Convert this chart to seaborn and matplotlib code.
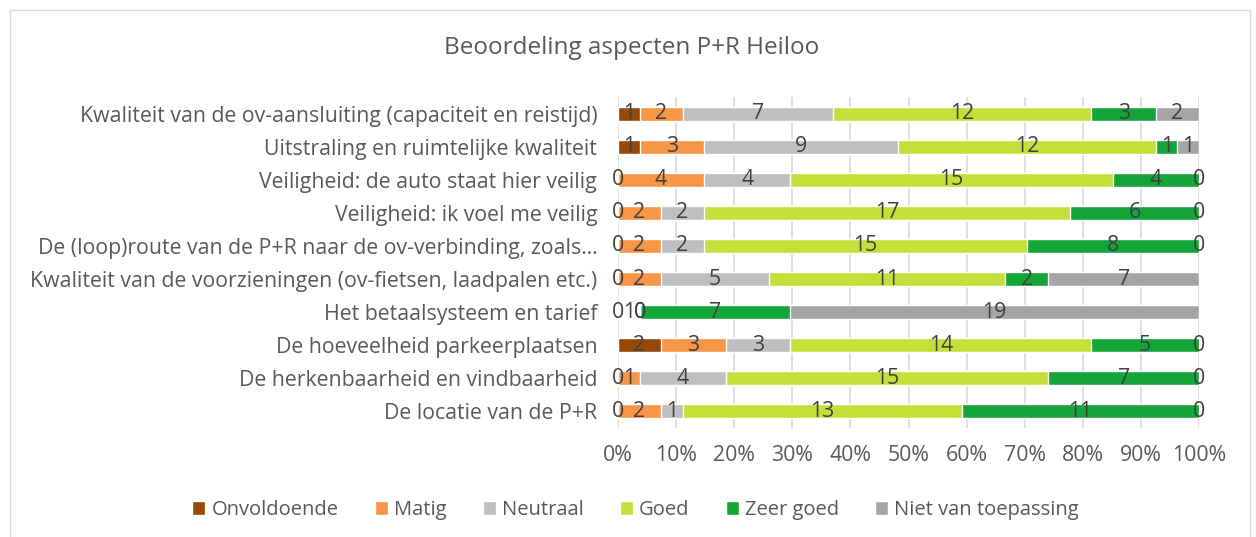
import numpy as np
import pandas as pd
import matplotlib
matplotlib.use("Agg")
import matplotlib.pyplot as plt
from matplotlib.patches import Rectangle
import seaborn as sns

categories = [
    "Kwaliteit van de ov-aansluiting (capaciteit en reistijd)",
    "Uitstraling en ruimtelijke kwaliteit",
    "Veiligheid: de auto staat hier veilig",
    "Veiligheid: ik voel me veilig",
    "De (loop)route van de P+R naar de ov-verbinding, zoals\u2026",
    "Kwaliteit van de voorzieningen (ov-fietsen, laadpalen etc.)",
    "Het betaalsysteem en tarief",
    "De hoeveelheid parkeerplaatsen",
    "De herkenbaarheid en vindbaarheid",
    "De locatie van de P+R",
]
series_names = ["Onvoldoende", "Matig", "Neutraal", "Goed", "Zeer goed", "Niet van toepassing"]
onvoldoende = [1, 1, 0, 0, 0, 0, 0, 2, 0, 0]
matig       = [2, 3, 4, 2, 2, 2, 1, 3, 1, 2]
neutraal    = [7, 9, 4, 2, 2, 5, 0, 3, 4, 1]
goed        = [12, 12, 15, 17, 15, 11, 0, 14, 15, 13]
zeer_goed   = [3, 1, 4, 6, 8, 2, 7, 5, 7, 11]
niet_vt     = [2, 1, 0, 0, 0, 7, 19, 0, 0, 0]
xtick_labels = ["0%", "10%", "20%", "30%", "40%", "50%", "60%", "70%", "80%", "90%", "100%"]
colors = ["#974706", "#F79646", "#BFBFBF", "#C5DF3A", "#13A538", "#A5A5A5"]

values = np.array([onvoldoende, matig, neutraal, goed, zeer_goed, niet_vt], dtype=float)
totals = values.sum(axis=0)
shares = values / totals
cum = np.cumsum(shares, axis=0)

sns.set_theme(style="white")
plt.rcParams["font.family"] = ["Open Sans", "DejaVu Sans"]

fig = plt.figure(figsize=(12.56, 5.37), dpi=100)
ax = fig.add_axes([618 / 1256, 1 - 428 / 537, (1199 - 618) / 1256, (428 - 97) / 537])

# draw cumulative bars from the last series to the first (overlay = stacked)
for i in range(len(series_names) - 1, -1, -1):
    df = pd.DataFrame({"cat": categories, "val": cum[i]})
    sns.barplot(data=df, y="cat", x="val", order=categories, color=colors[i],
                width=0.42, saturation=1, ax=ax, orient="h", errorbar=None,
                label=series_names[i], zorder=2)

# the Matig segment of the payment row is shown without fill in the original
pay = categories.index("Het betaalsysteem en tarief")
matig_container = ax.containers[len(series_names) - 1 - 1]
matig_container.patches[pay].set_facecolor("white")

# data labels
for i in range(len(series_names)):
    for r in range(len(categories)):
        start = cum[i][r] - shares[i][r]
        center = start + shares[i][r] / 2
        ax.text(center, r, f"{int(values[i][r])}", ha="center", va="center",
                fontsize=15.3, color="#404040", zorder=5)

ax.set_xlim(0, 1)
ax.set_ylim(len(categories) - 0.5, -0.5)
ax.set_xticks(np.linspace(0, 1, 11))
ax.set_xticklabels(xtick_labels)
ax.xaxis.grid(True, color="#D9D9D9", linewidth=1.2, zorder=0)
ax.set_axisbelow(True)
ax.set_xlabel("")
ax.set_ylabel("")
for s in ax.spines.values():
    s.set_visible(False)
ax.tick_params(axis="y", length=0, pad=15, labelsize=15.3, labelcolor="#595959")
ax.tick_params(axis="x", length=0, pad=12, labelsize=15.3, labelcolor="#595959")
if ax.get_legend() is not None:
    ax.get_legend().remove()

handles, labels = ax.get_legend_handles_labels()
order = [labels.index(n) for n in series_names]
fig.legend([handles[k] for k in order], series_names, loc="center", ncol=6,
           bbox_to_anchor=(0.506, 1 - 510 / 537), frameon=False, fontsize=14.5,
           handlelength=0.65, handleheight=0.65, handletextpad=0.3, columnspacing=1.8,
           labelcolor="#595959")

fig.text(0.503, 1 - 48 / 537, "Beoordeling aspecten P+R Heiloo", ha="center", va="center",
         fontsize=17.5, color="#595959")

fig.patches.append(Rectangle((10 / 1256, -0.05), (1250 - 10) / 1256, 1.05 - 10 / 537,
                             transform=fig.transFigure, fill=False, edgecolor="#D9D9D9",
                             linewidth=1))

fig.savefig("out.png", dpi=100)
